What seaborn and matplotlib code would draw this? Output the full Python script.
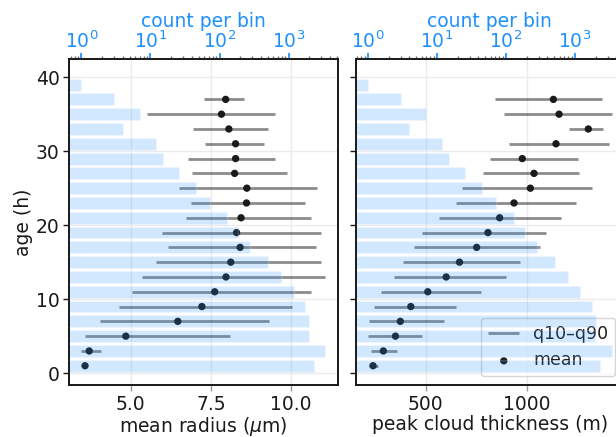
import numpy as np
import pandas as pd
import matplotlib
matplotlib.use('Agg')
import matplotlib.pyplot as plt
import seaborn as sns

# age bins (h), centres
age = [1, 3, 5, 7, 9, 11, 13, 15, 17, 19, 21, 23, 25, 27, 29, 31, 33, 35, 37, 39]
count = [2330, 3390, 1950, 2010, 1760, 1180, 783, 507, 279, 188, 129, 72, 45, 25.5,
         15, 12, 4, 7, 3, 1]

# mean radius (um)
rad_mean = [3.58, 3.71, 4.85, 6.47, 7.22, 7.62, 7.97, 8.12, 8.41, 8.30, 8.44, 8.61,
            8.62, 8.24, 8.27, 8.27, 8.06, 7.83, 7.96, np.nan]
rad_q10 = [3.53, 3.46, 3.59, 4.04, 4.64, 5.03, 5.35, 5.80, 6.17, 5.98, 6.72, 6.87,
           6.50, 6.90, 6.80, 7.31, 6.93, 5.52, 7.30, np.nan]
rad_q90 = [3.64, 4.07, 8.09, 9.32, 10.02, 10.62, 11.07, 10.93, 10.76, 10.94, 10.61,
           10.44, 10.80, 9.87, 9.49, 9.16, 9.28, 9.49, 8.54, np.nan]

# peak cloud thickness (m)
thk_mean = [239, 290, 350, 374, 426, 510, 601, 667, 752, 808, 866, 937, 1018, 1036,
            978, 1145, 1305, 1160, 1132, np.nan]
thk_q10 = [219, 229, 214, 221, 244, 280, 345, 389, 444, 480, 567, 651, 678, 785,
           818, 914, 1209, 886, 841, np.nan]
thk_q90 = [265, 356, 483, 590, 649, 774, 897, 968, 1067, 1097, 1168, 1246, 1325,
           1257, 1252, 1408, 1378, 1421, 1373, np.nan]

rad_ticks = [5.0, 7.5, 10.0]
thk_ticks = [500, 1000]

df = pd.DataFrame({'age': age, 'count': count,
                   'rad_mean': rad_mean, 'rad_q10': rad_q10, 'rad_q90': rad_q90,
                   'thk_mean': thk_mean, 'thk_q10': thk_q10, 'thk_q90': thk_q90})

sns.set_theme(style='whitegrid', rc={'axes.edgecolor': 'k', 'grid.color': '#ebebeb',
                                     'xtick.bottom': True, 'ytick.left': True,
                                     'xtick.color': '#999999', 'ytick.color': 'k',
                                     'text.color': 'k', 'axes.labelcolor': 'k'})
plt.rcParams['font.family'] = ['DejaVu Sans']
fs = 13.5
blue = '#1E90FF'

fig = plt.figure(figsize=(6.16, 4.37), dpi=100)
ax1 = fig.add_axes([0.1125, 0.119, 0.4357, 0.745])
ax2 = fig.add_axes([0.5774, 0.119, 0.4357, 0.745], sharey=ax1)

panels = [(ax1, 'rad', 'mean radius ($\\mu$m)', (3.09, 11.45), rad_ticks),
          (ax2, 'thk', 'peak cloud thickness (m)', (153, 1482), thk_ticks)]

for ax, key, xlabel, xlim, xticks in panels:
    d = df.dropna(subset=[key + '_mean'])
    ax.hlines(d['age'], d[key + '_q10'], d[key + '_q90'], color='k', alpha=0.5,
              lw=2, label='q10–q90', zorder=2)
    sns.scatterplot(data=d, x=key + '_mean', y='age', ax=ax, color='k', s=28,
                    edgecolor='none', label='mean', zorder=3)
    ax.set_xlim(*xlim)
    ax.set_xticks(xticks)
    ax.set_ylim(-1.6, 42.4)
    ax.set_yticks([0, 10, 20, 30, 40])
    ax.set_xlabel(xlabel, fontsize=fs, labelpad=1)
    ax.set_ylabel('')
    ax.tick_params(labelsize=fs, length=4, width=1, pad=3, labelcolor='k')
    ax.tick_params(axis='x', colors='#999999', labelcolor='k')
    for s in ax.spines.values():
        s.set_color('k')
    if ax is ax1:
        ax.get_legend().remove()
    else:
        ax.legend(loc='lower right', fontsize=12.5, handlelength=1.8)

    # counts on a log top axis, drawn on top of everything
    tw = ax.twiny()
    tw.barh(df['age'], df['count'], height=1.6, left=0, color=blue, alpha=0.2)
    tw.set_xscale('log')
    tw.set_xlim(0.667, 5150)
    tw.grid(False)
    tw.set_xlabel('count per bin', color=blue, fontsize=fs, labelpad=3)
    tw.tick_params(axis='x', which='major', colors=blue, labelsize=fs, length=4, pad=1)
    tw.tick_params(axis='x', which='minor', colors='#666666', length=2.5)
    tw.tick_params(axis='x', which='both', labelcolor=blue)

ax1.set_ylabel('age (h)', fontsize=fs, labelpad=2)
plt.setp(ax2.get_yticklabels(), visible=False)

fig.savefig('out.png', dpi=100)
